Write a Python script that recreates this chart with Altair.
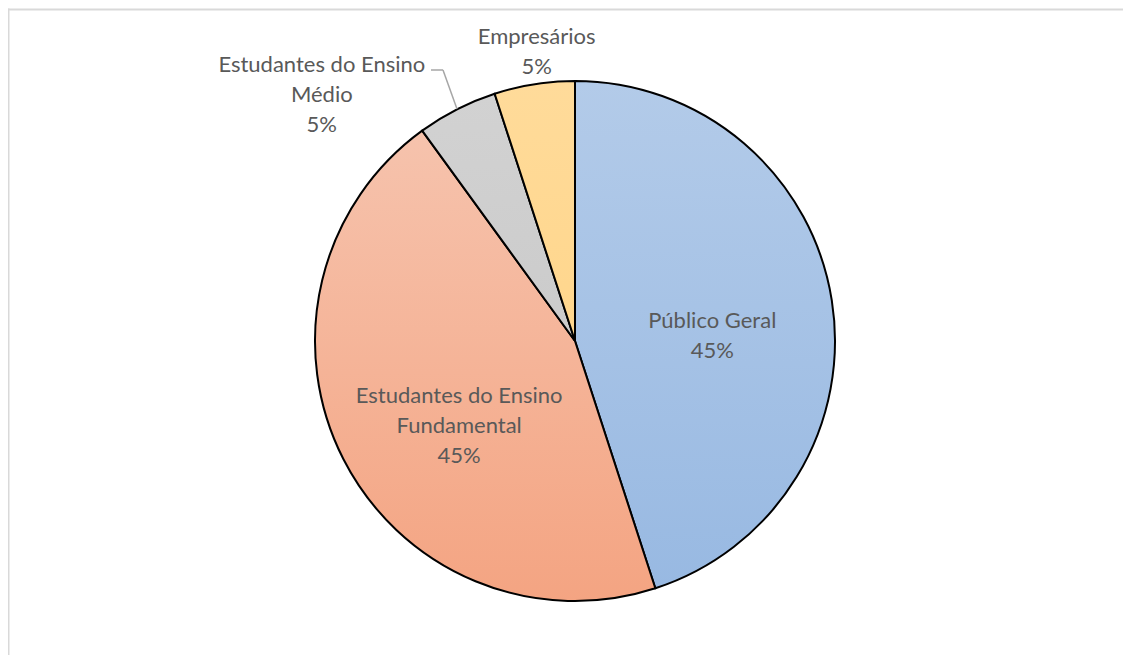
import math
import altair as alt
import pandas as pd

# ---- data ----
categories = ["Público Geral", "Estudantes do Ensino Fundamental",
              "Estudantes do Ensino Médio", "Empresários"]
values = [45, 45, 5, 5]
label_names = ["Público Geral", "Estudantes do Ensino\nFundamental",
               "Estudantes do Ensino\nMédio", "Empresários"]

top_colors = ["#B3CBE9", "#F6C3AD", "#D2D2D2", "#FFDB9A"]
bottom_colors = ["#98B9E2", "#F4A482", "#CBCBCB", "#FFD68C"]

df = pd.DataFrame({
    "cat": categories,
    "value": values,
    "name": label_names,
    "order": list(range(len(categories))),
})

W, H = 1115, 647
CX, CY = 567, 333
R = 260
FONT = "Lato"
TXT = "#595959"

theta_scale = alt.Scale(domain=[0, 100], range=[0, 2 * math.pi])

base = (
    alt.Chart(df)
    .transform_stack(stack="value", groupby=[], as_=["v0", "v1"],
                     sort=[alt.SortField(field="order", order="ascending")])
    .transform_calculate(mid="(datum.v0 + datum.v1) / 2",
                         txt="datum.name + '\\n' + datum.value + '%'")
)


def grad(i):
    return alt.Gradient(
        gradient="linear",
        stops=[alt.GradientStop(color=top_colors[i], offset=0),
               alt.GradientStop(color=bottom_colors[i], offset=1)],
        x1=0, x2=0, y1=0, y2=1,
    )


slices = []
for i in range(len(categories)):
    slices.append(
        base.transform_filter(alt.datum.order == i)
        .mark_arc(fill=grad(i), stroke="black", strokeWidth=2, radius=R)
        .encode(
            theta=alt.Theta("v0:Q", scale=theta_scale, stack=None),
            theta2="v1:Q",
            x=alt.value(CX), y=alt.value(CY),
        )
    )

# label placement: (radius, dx, dy)
label_pos = [(140, -1, 2), (130, 0, -4), (300, -117, -9), (290, 7, -18)]
labels = []
for i, (r, dx, dy) in enumerate(label_pos):
    labels.append(
        base.transform_filter(alt.datum.order == i)
        .mark_text(radius=r, dx=dx, dy=dy, font=FONT, fontSize=22, color=TXT,
                   lineBreak="\n", lineHeight=30, align="center", baseline="middle")
        .encode(
            theta=alt.Theta("mid:Q", scale=theta_scale, stack=None),
            text="txt:N",
            x=alt.value(CX), y=alt.value(CY),
        )
    )

one = pd.DataFrame({"a": [0]})
leader1 = alt.Chart(one).mark_rule(color="#A6A6A6", strokeWidth=1.5).encode(
    x=alt.value(423), x2=alt.value(435), y=alt.value(62), y2=alt.value(62))
leader2 = alt.Chart(one).mark_rule(color="#A6A6A6", strokeWidth=1.5).encode(
    x=alt.value(435), x2=alt.value(449), y=alt.value(62), y2=alt.value(101))

frame_top = alt.Chart(one).mark_rule(color="#D9D9D9", strokeWidth=2).encode(
    x=alt.value(0), x2=alt.value(W), y=alt.value(1.5), y2=alt.value(1.5))
frame_left = alt.Chart(one).mark_rule(color="#D9D9D9", strokeWidth=2).encode(
    x=alt.value(0.5), x2=alt.value(0.5), y=alt.value(0.5), y2=alt.value(H))

chart = alt.layer(frame_top, frame_left, *slices, leader1, leader2, *labels).properties(
    width=W, height=H, padding=0, autosize="none", background="white"
).configure_view(strokeWidth=0)

chart.save("out.html", embed_options={"renderer": "svg", "actions": False})
